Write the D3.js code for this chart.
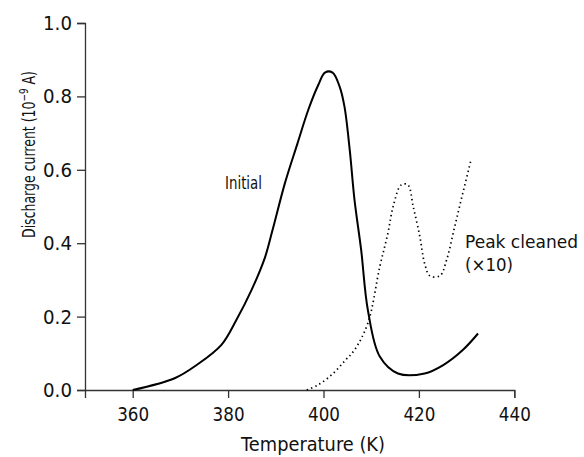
<!DOCTYPE html>
<html>
<head>
<meta charset="utf-8">
<script src="https://cdn.jsdelivr.net/npm/d3@7"></script>
<style>
  body { margin: 0; background: #fff; }
  text { font-family: "DejaVu Sans", sans-serif; fill: #111; }
</style>
</head>
<body>
<svg width="584" height="457"></svg>
<script>
// initial discharge current (solid)
const initialT = [360, 368.8, 373.4, 378.6, 381.7, 384.9, 387.7, 389.4, 391.9, 394.5, 396.8, 398.9, 400.3, 401.9, 403.4, 404.4, 405.5, 406.5, 407.9, 409.3, 411.8, 415.6, 421.2, 425.1, 429.2, 432.4];
const initialI = [0, 0.032, 0.068, 0.123, 0.19, 0.272, 0.36, 0.44, 0.563, 0.67, 0.763, 0.831, 0.865, 0.865, 0.826, 0.772, 0.654, 0.518, 0.381, 0.218, 0.091, 0.045, 0.045, 0.068, 0.109, 0.154];

// peak cleaned (x10), dotted
const cleanedT = [396.5, 399, 402, 404.5, 406.5, 409.3, 411.8, 413.5, 414.6, 416.3, 417.7, 418.8, 420.2, 421.2, 422.3, 424.4, 425.8, 427.5, 429.2, 431];
const cleanedI = [0, 0.015, 0.045, 0.08, 0.109, 0.182, 0.336, 0.427, 0.5, 0.559, 0.559, 0.5, 0.418, 0.345, 0.311, 0.311, 0.354, 0.445, 0.536, 0.631];

const xTicks = [360, 380, 400, 420, 440];
const yTicks = [0, 0.2, 0.4, 0.6, 0.8, 1.0];

const svg = d3.select('svg');

const x = d3.scaleLinear().domain([350, 440]).range([85, 514.3]);
const y = d3.scaleLinear().domain([0, 1]).range([390, 23]);

const xAxis = svg.append('g')
  .attr('transform', `translate(0, ${y(0)})`)
  .call(d3.axisBottom(x).tickValues(xTicks).tickSizeOuter(0).tickSize(8).tickPadding(9));

const yAxis = svg.append('g')
  .attr('transform', `translate(${x(350)}, 0)`)
  .call(d3.axisLeft(y).tickValues(yTicks).tickFormat(d3.format('.1f')).tickSizeOuter(0).tickSize(8).tickPadding(5));

[xAxis, yAxis].forEach(g => {
  g.select('.domain').attr('stroke', '#333').attr('stroke-width', 1.3);
  g.selectAll('.tick line').attr('stroke', '#333').attr('stroke-width', 1.3);
  g.selectAll('.tick text').attr('font-size', 20).attr('fill', '#111')
    .attr('lengthAdjust', 'spacingAndGlyphs')
    .style('font-family', '"DejaVu Sans", sans-serif');
});
xAxis.selectAll('.tick text').attr('textLength', 32);
yAxis.selectAll('.tick text').attr('textLength', 29);

const line = d3.line()
  .x(d => x(d[0]))
  .y(d => y(d[1]))
  .curve(d3.curveCatmullRom.alpha(0.5));

svg.append('path')
  .datum(d3.zip(initialT, initialI))
  .attr('fill', 'none')
  .attr('stroke', '#000')
  .attr('stroke-width', 2)
  .attr('d', line);

svg.append('path')
  .datum(d3.zip(cleanedT, cleanedI))
  .attr('fill', 'none')
  .attr('stroke', '#000')
  .attr('stroke-width', 1.7)
  .attr('stroke-dasharray', '1.4,3.2')
  .attr('d', line);

const label = (tx, ty, size, len, str) => svg.append('text')
  .attr('x', tx).attr('y', ty)
  .attr('font-size', size)
  .attr('textLength', len)
  .attr('lengthAdjust', 'spacingAndGlyphs')
  .text(str);

label(225, 189, 18, 37, 'Initial');
label(465, 248, 18, 113, 'Peak cleaned');
label(465, 271, 18, 48, '(×10)');
label(241, 451, 20, 144, 'Temperature (K)');

const yl = svg.append('text')
  .attr('transform', 'translate(35, 238) rotate(-90)')
  .attr('font-size', 17)
  .attr('textLength', 167)
  .attr('lengthAdjust', 'spacingAndGlyphs');
yl.append('tspan').text('Discharge current (10');
yl.append('tspan').attr('dy', -7).attr('font-size', 12).text('−9');
yl.append('tspan').attr('dy', 7).text(' A)');
</script>
</body>
</html>
